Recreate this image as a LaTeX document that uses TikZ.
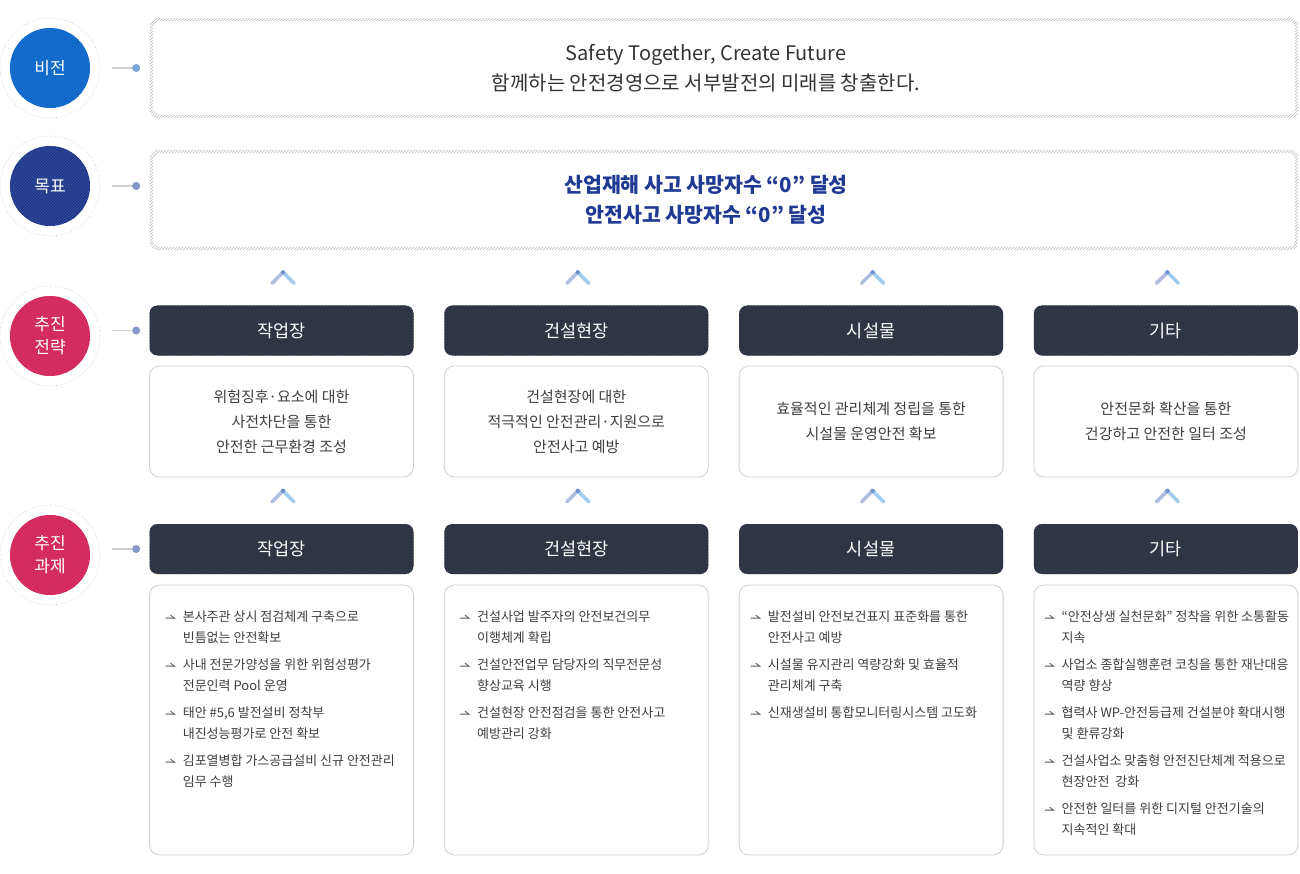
\documentclass[tikz,border=0pt]{standalone}
\usepackage{fontspec}
\setmainfont{Noto Sans CJK KR}
\usetikzlibrary{positioning,patterns,calc}
\definecolor{visionblue}{RGB}{10,102,200}
\definecolor{goalnavy}{RGB}{30,56,140}
\definecolor{pushred}{RGB}{210,36,90}
\definecolor{headdark}{RGB}{46,51,68}
\definecolor{headstripe}{RGB}{55,60,77}
\definecolor{txtgray}{RGB}{62,62,62}
\definecolor{linegray}{RGB}{206,206,206}
\definecolor{dotblue}{RGB}{122,168,220}
\definecolor{dotnavy}{RGB}{134,150,200}
\definecolor{chevleft}{RGB}{178,190,224}
\definecolor{chevright}{RGB}{162,204,238}
\definecolor{chevtop}{RGB}{112,146,206}
\definecolor{goaltext}{RGB}{32,58,148}
\tikzset{
  badge/.style = {circle, minimum size=80pt, inner sep=0pt, text=white, align=center,
    font=\fontsize{17}{23}\selectfont},
  ring/.style = {circle, minimum size=100pt, draw=black!25, dotted, line width=0.6pt},
  framebox/.style = {minimum width=1148pt, minimum height=100pt, inner sep=0pt},
  frametext/.style = {align=center, inner sep=0pt},
  hatch/.style = {pattern=north east lines, pattern color=black!28, even odd rule, rounded corners=8pt},
  headbox/.style = {rounded corners=8pt, fill=headdark, minimum width=264pt, minimum height=50pt,
    text=white, font=\fontsize{17.5}{20}\selectfont,
    postaction={pattern=north east lines, pattern color=headstripe}},
  infobox/.style = {rounded corners=10pt, draw=linegray, line width=0.8pt, fill=white,
    minimum width=264pt, minimum height=111pt, text=txtgray, align=center,
    font=\fontsize{15}{25}\selectfont},
  taskbox/.style = {infobox, minimum height=270pt},
  item/.style = {anchor=north west, align=left, inner sep=0pt, text=txtgray,
    font=\fontsize{13}{21}\selectfont},
  bullet/.style = {draw=black!65, line width=0.8pt},
  link/.style = {draw=linegray, line width=1.6pt},
  linkdot/.style = {circle, inner sep=0pt, minimum size=8pt},
  chev/.style = {line width=3.6pt, line cap=round}
}
\begin{document}
\begin{tikzpicture}[x=1pt, y=-1pt]
  \useasboundingbox (0,0) rectangle (1300,874);
  \foreach \nm/\yy/\clr/\lbl in {c1/68/visionblue/비전, c2/186/goalnavy/목표,
      c3/336/pushred/추진\\전략, c4/555/pushred/추진\\과제} {
    \node[ring] at (50,\yy) {};
    \node[badge, fill=\clr, postaction={pattern=north east lines, pattern color=\clr!88!white}]
      (\nm) at (50,\yy) {\lbl};
  }
  \node[framebox] (vision) at (724,68) {};
  \node[framebox] (goal) at (724,200) {};
  \foreach \b in {vision,goal}
    \fill[hatch] (\b.north west) rectangle (\b.south east)
      ([shift={(3,3)}]\b.north west) rectangle ([shift={(-3,-3)}]\b.south east);
  \node[frametext, text=black!80, font=\fontsize{20}{30}\selectfont] (visiontext)
    at ([xshift=-18pt]vision.center)
    {Safety Together, Create Future\\함께하는 안전경영으로 서부발전의 미래를 창출한다.};
  \node[frametext, text=goaltext, font=\fontsize{20.5}{30}\selectfont\bfseries] (goaltext)
    at ([xshift=-18pt]goal.center)
    {산업재해 사고 사망자수 “0” 달성\\안전사고 사망자수 “0” 달성};

  \foreach \lbl/\txt [count=\i] in {작업장/{위험징후·요소에 대한\\사전차단을 통한\\안전한 근무환경 조성},
      건설현장/{건설현장에 대한\\적극적인 안전관리·지원으로\\안전사고 예방},
      시설물/{효율적인 관리체계 정립을 통한\\시설물 운영안전 확보},
      기타/{안전문화 확산을 통한\\건강하고 안전한 일터 조성}} {
    \pgfmathsetmacro{\cx}{281.5+294.8*(\i-1)}
    \node[headbox] (s\i) at (\cx,330.5) {\lbl};
    \node[infobox] (i\i) at (\cx,421.5) {\txt};
    \node[headbox] (h\i) at (\cx,549) {\lbl};
    \node[taskbox] (k\i) at (\cx,720) {};
    \foreach \hb in {s\i,h\i} {
      \coordinate (apex) at ([shift={(1.5,-33)}]\hb.north);
      \draw[chev, chevleft] (apex) -- ++(-11,11);
      \draw[chev, chevright] (apex) -- ++(11,11);
      \fill[chevtop] (apex) circle (2.2);
    }
  }

  \foreach \dx/\lst [count=\i] in {
      33.5/{{본사주관 상시 점검체계 구축으로\\빈틈없는 안전확보},
       {사내 전문가양성을 위한 위험성평가\\전문인력 Pool 운영},
       {태안 \#5,6 발전설비 정착부\\내진성능평가로 안전 확보},
       {김포열병합 가스공급설비 신규 안전관리\\임무 수행}},
      33/{{건설사업 발주자의 안전보건의무\\이행체계 확립},
       {건설안전업무 담당자의 직무전문성\\향상교육 시행},
       {건설현장 안전점검을 통한 안전사고\\예방관리 강화}},
      29/{{발전설비 안전보건표지 표준화를 통한\\안전사고 예방},
       {시설물 유지관리 역량강화 및 효율적\\관리체계 구축},
       {신재생설비 통합모니터링시스템 고도화}},
      28/{{“안전상생 실천문화” 정착을 위한 소통활동\\지속},
       {사업소 종합실행훈련 코칭을 통한 재난대응\\역량 향상},
       {협력사 WP-안전등급제 건설분야 확대시행\\및 환류강화},
       {건설사업소 맞춤형 안전진단체계 적용으로\\현장안전 \ 강화},
       {안전한 일터를 위한 디지털 안전기술의\\지속적인 확대}}} {
    \foreach \txt [count=\j] in \lst {
      \node[item] (t\i-\j) at ([shift={(\dx,{26+48*(\j-1)})}]k\i.north west) {\txt};
      \draw[bullet] ([shift={(-17,7.5)}]t\i-\j.north west) -- ++(9,0) -- ++(-4,-3);
    }
  }

  \foreach \nm/\clr in {c1/dotblue, c2/dotnavy}
    \draw[link] (\nm.east) ++(22,0) -- ++(24,0) node[linkdot, fill=\clr] {};
  \foreach \nm/\hb in {c3/s1, c4/h1}
    \draw[link] (\nm.east |- \hb.west) ++(22,0) -- ++(24,0) node[linkdot, fill=dotnavy] {};
\end{tikzpicture}
\end{document}
